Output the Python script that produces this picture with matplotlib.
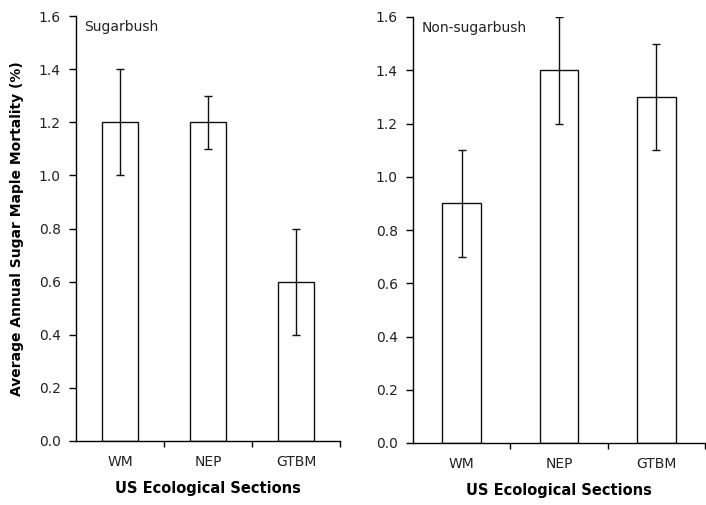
import matplotlib
matplotlib.use("Agg")
import matplotlib.pyplot as plt

plt.rcParams['font.family'] = ['DejaVu Sans']

sections = ['WM', 'NEP', 'GTBM']
sugarbush = [1.2, 1.2, 0.6]
sugarbush_err = [0.2, 0.1, 0.2]
non_sugarbush = [0.9, 1.4, 1.3]
non_sugarbush_err = [0.2, 0.2, 0.2]
yticks = [0.0, 0.2, 0.4, 0.6, 0.8, 1.0, 1.2, 1.4, 1.6]

fig = plt.figure(figsize=(7.06, 5.05), dpi=100)
ax1 = fig.add_axes([76/706, 1-441/505, 264/706, 425/505])
ax2 = fig.add_axes([413/706, 1-443/505, 292/706, 426/505])

panels = [(ax1, sugarbush, sugarbush_err, 'Sugarbush'),
          (ax2, non_sugarbush, non_sugarbush_err, 'Non-sugarbush')]

for ax, vals, errs, name in panels:
    x = range(len(sections))
    ax.bar(x, vals, width=0.4, color='white', edgecolor='#111111', linewidth=1.0,
           yerr=errs, error_kw=dict(ecolor='#111111', elinewidth=1.0, capsize=3, capthick=1.0))
    ax.set_xlim(-0.5, 2.5)
    ax.set_ylim(0, 1.6)
    ax.set_yticks(yticks)
    ax.set_yticklabels(['%.1f' % v for v in yticks], fontsize=10, color='#222222')
    # boundary ticks between sections, labels in the middle
    ax.set_xticks([0.5, 1.5, 2.5])
    ax.set_xticklabels([])
    ax.set_xticks(list(x), minor=True)
    ax.set_xticklabels(sections, minor=True, fontsize=10, color='#222222')
    ax.tick_params(axis='x', which='major', direction='out', length=4, width=1)
    ax.tick_params(axis='x', which='minor', length=0, pad=10)
    ax.tick_params(axis='y', direction='out', length=5, width=1, pad=6)
    for s in ['top', 'right']:
        ax.spines[s].set_visible(False)
    ax.spines['left'].set_linewidth(1.0)
    ax.spines['bottom'].set_linewidth(1.0)
    ax.set_xlabel('US Ecological Sections', fontsize=10.5, fontweight='bold', labelpad=9)
    ax.text(0.03, 0.975, name, transform=ax.transAxes, fontsize=10, va='center', ha='left',
            color='#222222')

ax1.set_ylabel('Average Annual Sugar Maple Mortality (%)', fontsize=10, fontweight='bold')
ax1.yaxis.set_label_coords(-0.197, 0.5)

fig.savefig('out.png', dpi=100)
